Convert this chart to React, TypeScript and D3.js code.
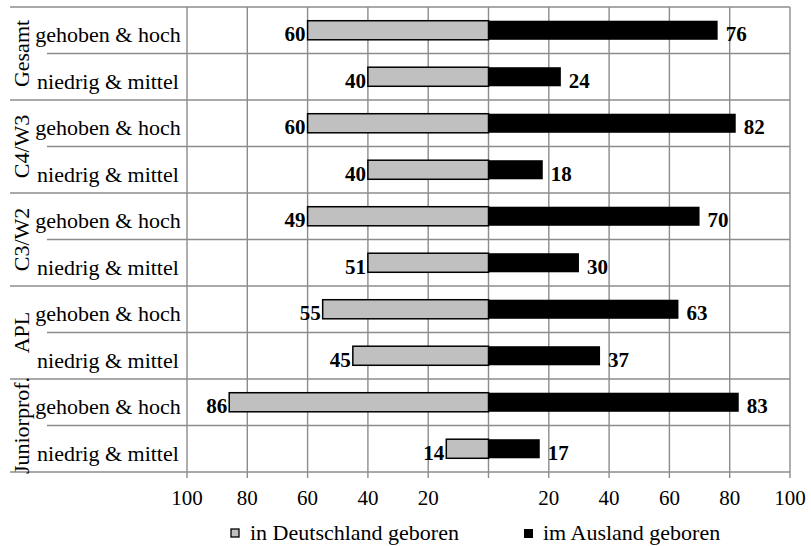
import React from "react";
import * as d3 from "d3";

const groups = ["Gesamt", "C4/W3", "C3/W2", "APL", "Juniorprof."];
const levels = ["gehoben & hoch", "niedrig & mittel"];
// bar lengths as drawn in the reference
const deutschland = [60, 40, 60, 40, 60, 40, 55, 45, 86, 14];
// printed labels (differ from bars in C3/W2, as in the reference)
const deutschlandLabels = [60, 40, 60, 40, 49, 51, 55, 45, 86, 14];
const ausland = [76, 24, 82, 18, 70, 30, 63, 37, 83, 17];
const tickValues = [-100, -80, -60, -40, -20, 0, 20, 40, 60, 80, 100];
const seriesNames = ["in Deutschland geboren", "im Ausland geboren"];

const W = 811;
const H = 546;
const FONT = "'Liberation Serif', 'Times New Roman', serif";
const GRID = "#8c8c8c";

export default function App() {
  const rows = groups.flatMap((g) => levels.map((l) => `${g}|${l}`));
  const x = d3.scaleLinear().domain([-100, 100]).range([187, 790]);
  const y = d3.scaleBand().domain(rows).range([7, 472]).padding(0);
  const bw = y.bandwidth();
  const barH = bw * 0.41;
  const x0 = x(0);
  const labelDy = 11;

  return (
    <svg width={W} height={H} style={{ position: "absolute", left: 0, top: 0, background: "#fff", fontFamily: FONT }}>
      <rect x={0} y={0} width={W} height={H} fill="#fff" />
      {/* vertical gridlines */}
      {tickValues.map((t) => (
        <line key={"g" + t} x1={x(t)} x2={x(t)} y1={y.range()[0]} y2={y.range()[1] + 6} stroke={GRID} strokeWidth={1.4} />
      ))}
      {/* horizontal lines */}
      {rows.map((r, i) => {
        const yy = y(r)!;
        const full = i % 2 === 0;
        return <line key={"h" + r} x1={full ? 10 : 47} x2={x(100)} y1={yy} y2={yy} stroke={GRID} strokeWidth={1.4} />;
      })}
      <line x1={10} x2={x(100)} y1={y.range()[1]} y2={y.range()[1]} stroke={GRID} strokeWidth={1.4} />
      {/* bars */}
      {rows.map((r, i) => {
        const cy = y(r)! + bw / 2;
        return (
          <g key={"b" + r}>
            <rect x={x(-deutschland[i])} y={cy - barH / 2} width={x0 - x(-deutschland[i])} height={barH} fill="#c0c0c0" stroke="#000" strokeWidth={1.5} />
            <rect x={x0} y={cy - barH / 2} width={x(ausland[i]) - x0} height={barH} fill="#000" />
            <text x={x(-deutschland[i]) - 2} y={cy + labelDy} textAnchor="end" fontWeight="bold" fontSize={21}>{deutschlandLabels[i]}</text>
            <text x={x(ausland[i]) + 8} y={cy + labelDy} textAnchor="start" fontWeight="bold" fontSize={21}>{ausland[i]}</text>
            <text x={108} y={cy + 12} textAnchor="middle" fontSize={22}>{r.split("|")[1]}</text>
          </g>
        );
      })}
      {/* group labels */}
      {groups.map((g) => {
        const cy = (y(`${g}|${levels[0]}`)! + y(`${g}|${levels[1]}`)! + bw) / 2;
        return (
          <text key={"grp" + g} transform={`translate(29,${cy}) rotate(-90)`} textAnchor="middle" fontSize={22}>{g}</text>
        );
      })}
      {/* tick labels */}
      {tickValues.filter((t) => t !== 0).map((t) => (
        <text key={"t" + t} x={x(t)} y={505} textAnchor="middle" fontSize={21}>{Math.abs(t)}</text>
      ))}
      {/* legend */}
      <rect x={231} y={529} width={8} height={8} fill="#c0c0c0" stroke="#000" strokeWidth={1.3} />
      <text x={250} y={540} fontSize={22}>{seriesNames[0]}</text>
      <rect x={524} y={529} width={9} height={9} fill="#000" />
      <text x={543} y={540} fontSize={22}>{seriesNames[1]}</text>
    </svg>
  );
}
